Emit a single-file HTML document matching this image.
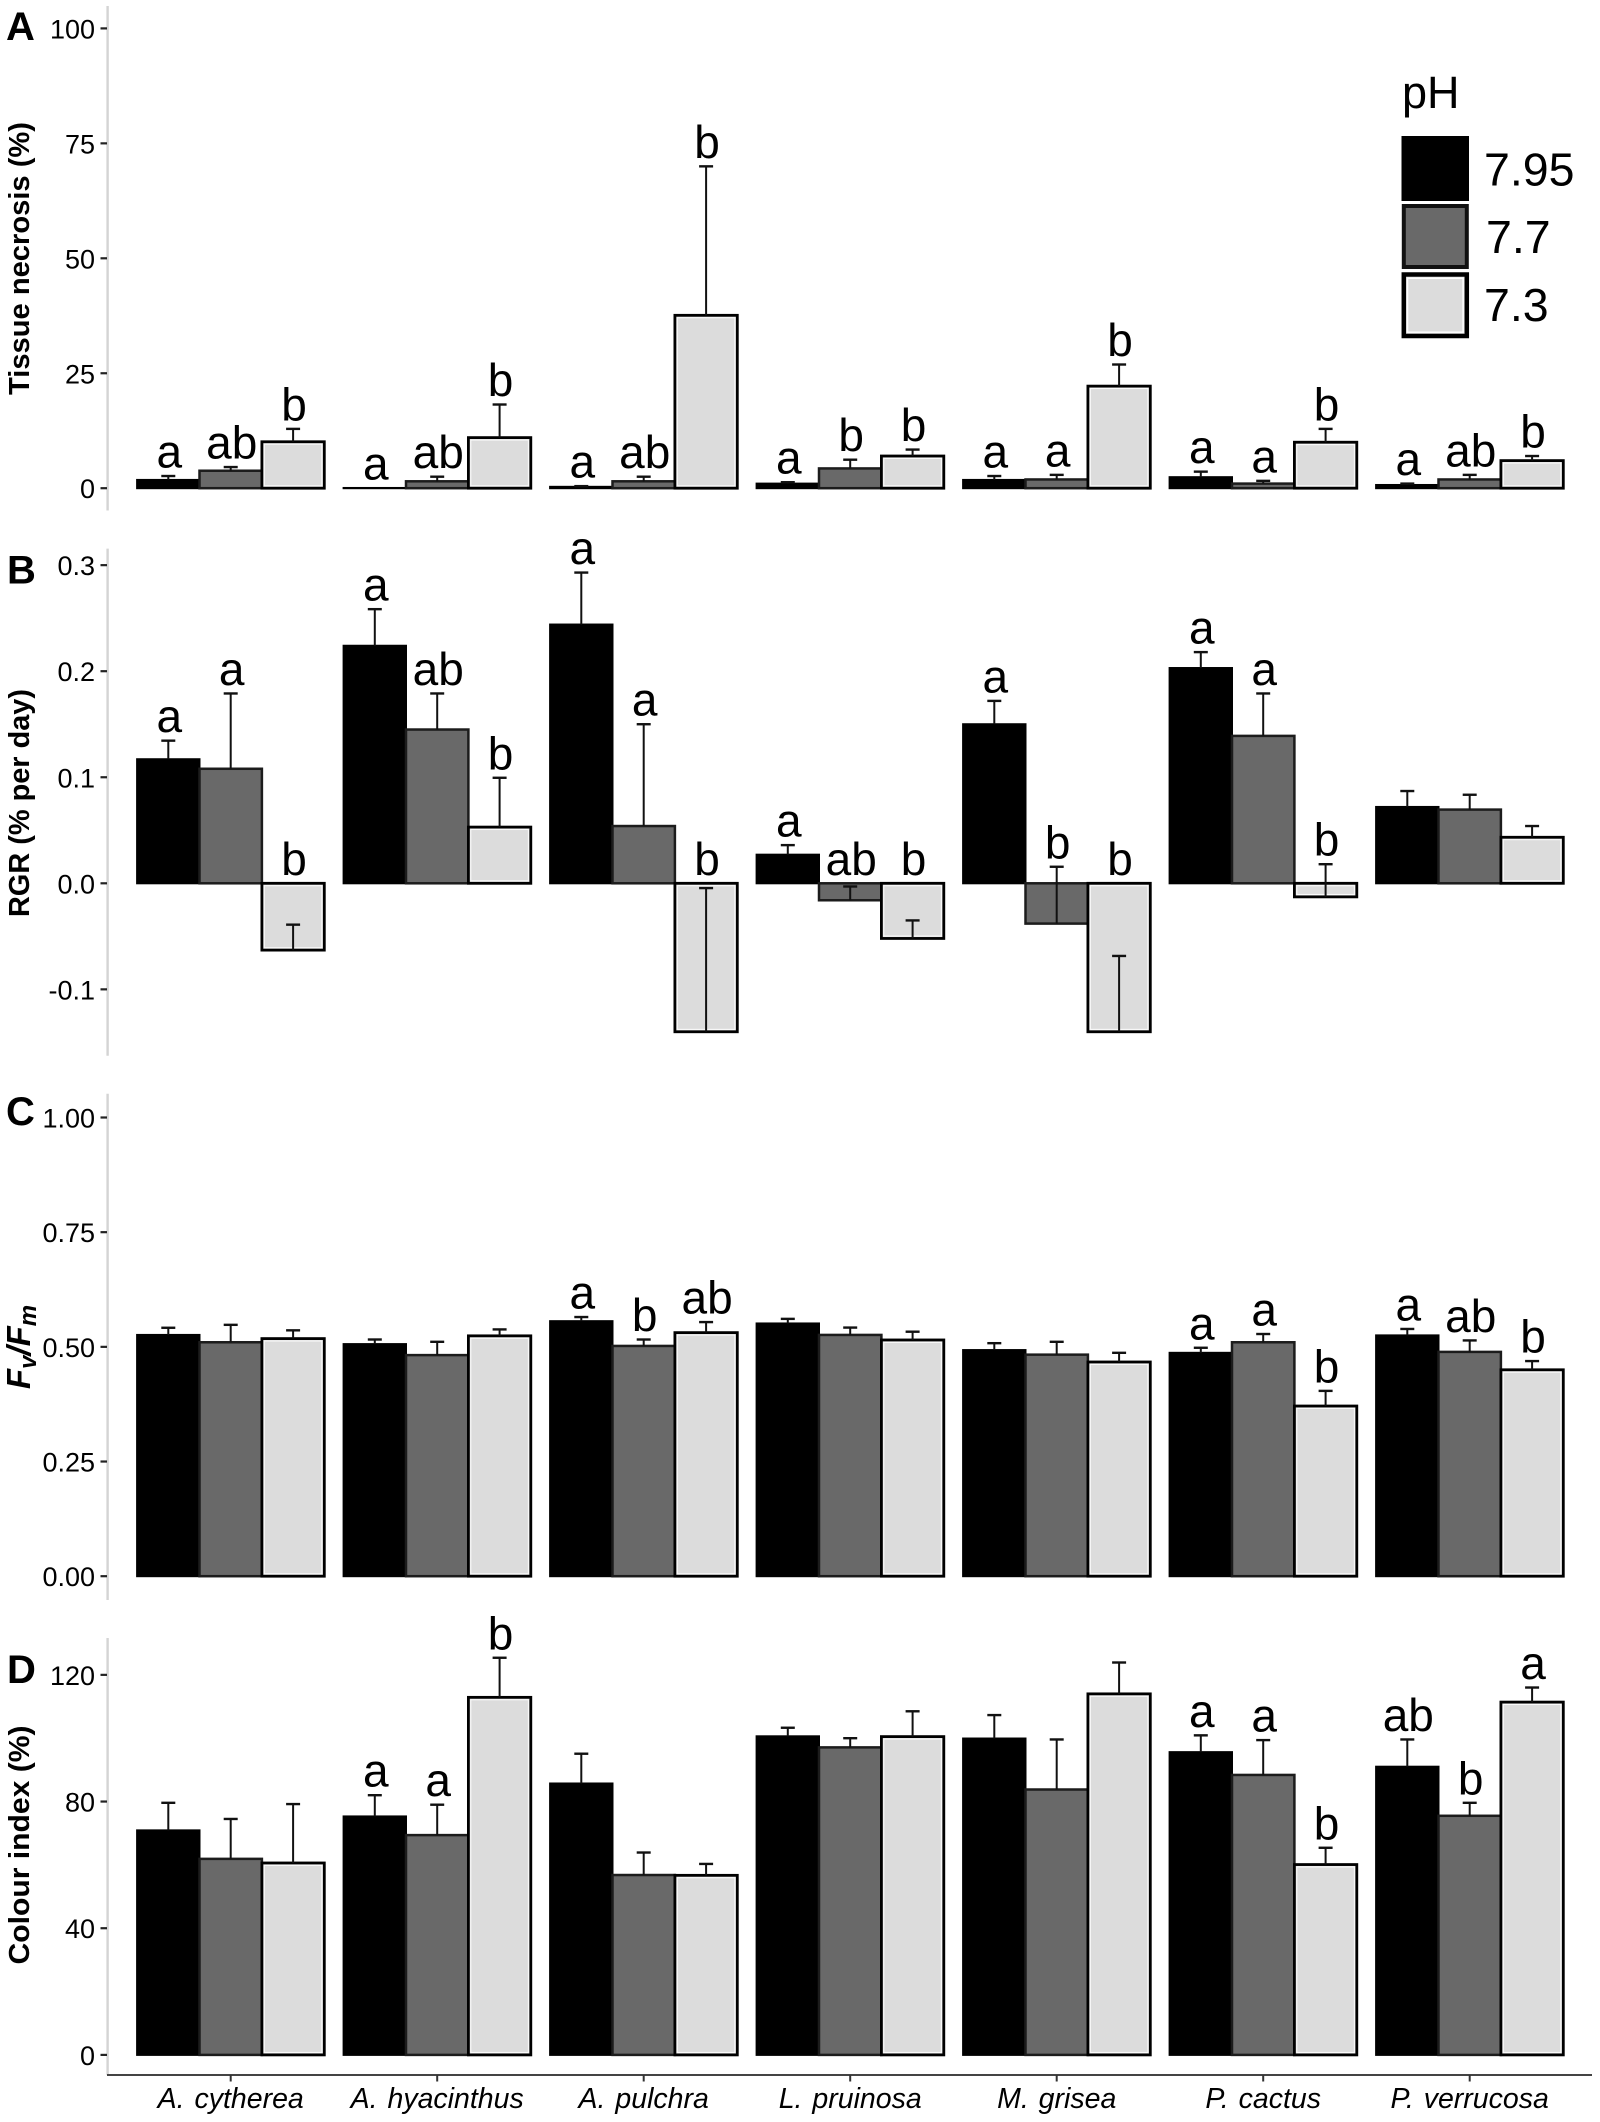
<!DOCTYPE html>
<html lang="en">
<head>
<meta charset="utf-8">
<title>Coral responses to pH</title>
<style>
html,body{margin:0;padding:0;background:#fff;}
svg{display:block;}
text{font-family:"Liberation Sans",Arial,sans-serif;fill:#000;}
</style>
</head>
<body>
<svg id="chart" xmlns="http://www.w3.org/2000/svg" width="1600" height="2122" viewBox="0 0 1600 2122">
  <rect x="0" y="0" width="1600" height="2122" fill="#fff"/>
  <g id="panels"></g>

  <g font-weight="700" font-size="40">
    <text x="6" y="40" style="font-weight:700">A</text>
    <text x="7" y="583.5" style="font-weight:700">B</text>
    <text x="6" y="1125" style="font-weight:700">C</text>
    <text x="7" y="1683" style="font-weight:700">D</text>
  </g>

  <g>
    <text transform="translate(29,258.5) rotate(-90)" text-anchor="middle" font-size="29" font-weight="700" textLength="273" lengthAdjust="spacingAndGlyphs">Tissue necrosis (%)</text>
    <text transform="translate(29,803) rotate(-90)" text-anchor="middle" font-size="29" font-weight="700" textLength="228" lengthAdjust="spacingAndGlyphs">RGR (% per day)</text>
    <text transform="translate(30,1347) rotate(-90)" text-anchor="middle" font-size="33" font-weight="700" font-style="italic">F<tspan font-size="24" dy="6">v</tspan><tspan dy="-6">/F</tspan><tspan font-size="24" dy="6">m</tspan></text>
    <text transform="translate(29,1845) rotate(-90)" text-anchor="middle" font-size="29" font-weight="700" textLength="239" lengthAdjust="spacingAndGlyphs">Colour index (%)</text>
  </g>

  <g>
    <text x="1402" y="108" font-size="45">pH</text>
    <g>
      <rect x="1402" y="136.5" width="66.5" height="64" fill="#000" stroke="#000" stroke-width="1"/>
      <text x="1484" y="185.5" font-size="46.5">7.95</text>
    </g>
    <g>
      <rect x="1403.8" y="206" width="63" height="61" fill="#696969" stroke="#111" stroke-width="4"/>
      <text x="1486" y="253" font-size="46.5">7.7</text>
    </g>
    <g>
      <rect x="1403.8" y="274.5" width="63" height="61.5" fill="#dcdcdc" stroke="#000" stroke-width="4.5"/>
      <rect x="1407.5" y="278.2" width="55.6" height="54" fill="none" stroke="#fff" stroke-width="1.5"/>
      <text x="1484" y="321" font-size="46.5">7.3</text>
    </g>
  </g>
</svg>

<script>
// Shared categories
const species = ['A. cytherea', 'A. hyacinthus', 'A. pulchra', 'L. pruinosa', 'M. grisea', 'P. cactus', 'P. verrucosa'];

// Panel A: tissue necrosis (%)
const necrosisTicks = [0, 25, 50, 75, 100];
const necrosisTickLabels = ['0', '25', '50', '75', '100'];
const necrosisHigh = [1.8, 0.05, 0.3, 1.0, 1.8, 2.4, 0.7];
const necrosisMid = [3.8, 1.5, 1.5, 4.3, 1.9, 1.0, 1.9];
const necrosisLow = [10.1, 11.0, 37.6, 7.0, 22.2, 10.0, 6.0];
const necrosisHighUpper = [2.65, 0.05, 0.45, 1.3, 2.65, 3.6, 1.0];
const necrosisMidUpper = [4.6, 2.5, 2.5, 6.2, 2.9, 1.6, 2.9];
const necrosisLowUpper = [12.9, 18.2, 70.0, 8.4, 26.9, 12.9, 7.0];
const necrosisLetters = [['a','ab','b'], ['a','ab','b'], ['a','ab','b'], ['a','b','b'], ['a','a','b'], ['a','a','b'], ['a','ab','b']];

// Panel B: relative growth rate (% per day)
const rgrTicks = [-0.1, 0, 0.1, 0.2, 0.3];
const rgrTickLabels = ['-0.1', '0.0', '0.1', '0.2', '0.3'];
const rgrHigh = [0.117, 0.224, 0.244, 0.027, 0.150, 0.203, 0.072];
const rgrMid = [0.108, 0.145, 0.054, -0.016, -0.038, 0.139, 0.0695];
const rgrLow = [-0.063, 0.053, -0.140, -0.052, -0.140, -0.0128, 0.0434];
const rgrHighUpper = [0.1345, 0.2585, 0.293, 0.036, 0.172, 0.218, 0.087];
const rgrMidUpper = [0.179, 0.179, 0.150, -0.003, 0.0156, 0.179, 0.0835];
const rgrLowUpper = [-0.039, 0.0995, -0.0045, -0.035, -0.0685, 0.018, 0.054];
const rgrLetters = [['a','a','b'], ['a','ab','b'], ['a','a','b'], ['a','ab','b'], ['a','b','b'], ['a','a','b'], ['','','']];

// Panel C: Fv/Fm
const fvfmTicks = [0, 0.25, 0.5, 0.75, 1];
const fvfmTickLabels = ['0.00', '0.25', '0.50', '0.75', '1.00'];
const fvfmHigh = [0.526, 0.506, 0.556, 0.551, 0.493, 0.487, 0.525];
const fvfmMid = [0.510, 0.482, 0.502, 0.526, 0.483, 0.510, 0.489];
const fvfmLow = [0.518, 0.524, 0.531, 0.515, 0.467, 0.371, 0.450];
const fvfmHighUpper = [0.5416, 0.516, 0.565, 0.561, 0.508, 0.498, 0.539];
const fvfmMidUpper = [0.548, 0.511, 0.516, 0.542, 0.511, 0.528, 0.514];
const fvfmLowUpper = [0.536, 0.538, 0.554, 0.533, 0.487, 0.404, 0.469];
const fvfmLetters = [['','',''], ['','',''], ['a','b','ab'], ['','',''], ['','',''], ['a','a','b'], ['a','ab','b']];

// Panel D: colour index (%)
const colourTicks = [0, 40, 80, 120];
const colourTickLabels = ['0', '40', '80', '120'];
const colourHigh = [70.9, 75.3, 85.7, 100.6, 99.9, 95.6, 91.0];
const colourMid = [61.9, 69.4, 56.8, 97.1, 83.8, 88.4, 75.5];
const colourLow = [60.6, 112.9, 56.7, 100.5, 114.0, 60.1, 111.4];
const colourHighUpper = [79.6, 82.0, 95.1, 103.3, 107.3, 100.9, 99.6];
const colourMidUpper = [74.5, 79.0, 63.9, 100.0, 99.6, 99.4, 79.6];
const colourLowUpper = [79.2, 125.4, 60.3, 108.5, 123.9, 65.4, 116.0];
const colourLetters = [['','',''], ['a','a','b'], ['','',''], ['','',''], ['','',''], ['a','a','b'], ['ab','b','a']];

const NS = 'http://www.w3.org/2000/svg';
const root = document.getElementById('panels');

function make(tag, attrs, parent) {
  const node = document.createElementNS(NS, tag);
  for (const key in attrs) node.setAttribute(key, attrs[key]);
  parent.appendChild(node);
  return node;
}

const groupStart = 230.7;
const groupStep = 206.5;
const barWidth = 62.4;
const xGroup = function (i) { return groupStart + groupStep * i; };
const xBar = function (i, s) { return xGroup(i) + (s - 1) * barWidth; };

const fills = ['#000000', '#696969', '#dcdcdc'];
const strokes = ['#000000', '#1c1c1c', '#000000'];
const strokeWidths = [2, 2.5, 2.8];

const panels = [
  { zeroY: 488.2, perUnit: 4.598, top: 6, bottom: 510.5, ticks: necrosisTicks, tickLabels: necrosisTickLabels,
    series: [necrosisHigh, necrosisMid, necrosisLow], uppers: [necrosisHighUpper, necrosisMidUpper, necrosisLowUpper], letters: necrosisLetters },
  { zeroY: 883.3, perUnit: 1060.5, top: 548.6, bottom: 1055.7, ticks: rgrTicks, tickLabels: rgrTickLabels,
    series: [rgrHigh, rgrMid, rgrLow], uppers: [rgrHighUpper, rgrMidUpper, rgrLowUpper], letters: rgrLetters },
  { zeroY: 1576.2, perUnit: 458.7, top: 1093.8, bottom: 1600, ticks: fvfmTicks, tickLabels: fvfmTickLabels,
    series: [fvfmHigh, fvfmMid, fvfmLow], uppers: [fvfmHighUpper, fvfmMidUpper, fvfmLowUpper], letters: fvfmLetters },
  { zeroY: 2054.9, perUnit: 3.167, top: 1638, bottom: 2075, ticks: colourTicks, tickLabels: colourTickLabels,
    series: [colourHigh, colourMid, colourLow], uppers: [colourHighUpper, colourMidUpper, colourLowUpper], letters: colourLetters }
];

panels.forEach(function (panel) {
  const yScale = function (v) { return panel.zeroY - v * panel.perUnit; };

  const group = make('g', {}, root);
  
  

  const axis = make('line', { x1: 107.6, x2: 107.6, y1: panel.top, y2: panel.bottom, stroke: '#d4d4d4', 'stroke-width': 2.4 }, group);
  
  

  panel.ticks.forEach(function (t, k) {
    const tick = make('line', { x1: 100.5, x2: 107, y1: yScale(t), y2: yScale(t), stroke: '#222', 'stroke-width': 2.2 }, group);
    
    

    const label = make('text', { x: 95, y: yScale(t) + 10, 'text-anchor': 'end', 'font-size': 27 }, group);
    
    
    label.textContent = panel.tickLabels[k];
  });

  panel.series.forEach(function (values, s) {
    values.forEach(function (v, i) {
      const y0 = yScale(Math.max(v, 0));
      const y1 = yScale(Math.min(v, 0));
      const x = xBar(i, s) - barWidth / 2;
      const bar = make('rect', { x: x, y: y0, width: barWidth, height: y1 - y0, fill: fills[s], stroke: strokes[s], 'stroke-width': strokeWidths[s] }, group);
      
      

      if (s === 2 && y1 - y0 > 7) {
        const shine = make('rect', { x: x + 2.4, y: y0 + 2.4, width: barWidth - 4.8, height: y1 - y0 - 4.8, fill: 'none', stroke: '#fff', 'stroke-width': 1.1, opacity: 0.85 }, group);
        
        
      }
    });
  });

  panel.series.forEach(function (values, s) {
    values.forEach(function (v, i) {
      const upper = panel.uppers[s][i];
      const cx = xBar(i, s);
      if (upper !== v) {
        const stem = make('line', { x1: cx, x2: cx, y1: yScale(v), y2: yScale(upper), stroke: '#111', 'stroke-width': 2 }, group);
        
        

        const cap = make('line', { x1: cx - 7, x2: cx + 7, y1: yScale(upper), y2: yScale(upper), stroke: '#111', 'stroke-width': 2.4 }, group);
        
        
      }

      const mark = panel.letters[i][s];
      if (mark) {
        const letter = make('text', { x: cx + 1, y: yScale(Math.max(0, upper)) - 8.5, 'text-anchor': 'middle', 'font-size': 46 }, group);
        
        
        letter.textContent = mark;
      }
    });
  });
});

const xAxis = make('line', { x1: 107, x2: 1592, y1: 2075, y2: 2075, stroke: '#444', 'stroke-width': 2 }, root);



species.forEach(function (name, i) {
  const tick = make('line', { x1: xGroup(i), x2: xGroup(i), y1: 2075, y2: 2081.5, stroke: '#333', 'stroke-width': 2 }, root);
  
  

  const label = make('text', { x: xGroup(i), y: 2108, 'text-anchor': 'middle', 'font-size': 28.5, 'font-style': 'italic', 'word-spacing': 2 }, root);
  
  
  label.textContent = name;
});
</script>
</body>
</html>
